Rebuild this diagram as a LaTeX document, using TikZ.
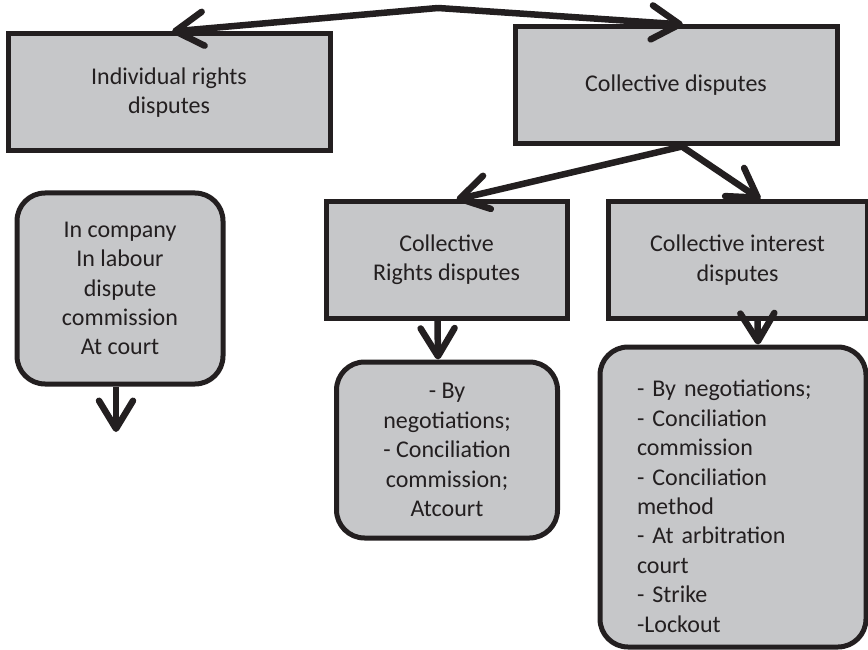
\documentclass[tikz,border=0pt]{standalone}
\usepackage{fontspec}
\setmainfont{Carlito}
\usetikzlibrary{arrows.meta}

\definecolor{boxgray}{HTML}{C6C7C9}
\definecolor{inkdark}{HTML}{231F20}

\tikzset{
    box/.style={draw=inkdark, line width=5pt, fill=boxgray, text=inkdark,
        align=center, inner sep=0pt},
    roundbox/.style={box, rounded corners=28pt},
    link/.style={draw=inkdark, line width=6.5pt,
        -{Straight Barb[length=28pt, width=34pt, round]}},
}

\begin{document}
\begin{tikzpicture}[x=1pt, y=-1pt, font=\fontsize{24}{29.4}\selectfont]
    \useasboundingbox (0,0) rectangle (868,650);

    % top level
    \node[box, minimum width=322pt, minimum height=117pt] (ind) at (169,92.5)
        {Individual rights\\disputes};
    \node[box, minimum width=322pt, minimum height=117pt] (col) at (676,85.5)
        {Collective disputes};

    % second level
    \node[roundbox, minimum width=206pt, minimum height=191pt] (comp) at (120,288.5)
        {In company\\In labour\\dispute\\commission\\At court};
    \node[box, minimum width=241pt, minimum height=116pt] (crd) at (446.5,260)
        {Collective\\Rights disputes};
    \node[box, minimum width=259pt, minimum height=116pt] (cid) at (737.5,260)
        {Collective interest\\disputes};

    % ways of settling
    \node[roundbox, minimum width=221pt, minimum height=176pt] (crm) at (447,450)
        {- By\\negotiations;\\- Conciliation\\commission;\\Atcourt};
    \node[roundbox, align=left, text width=192pt, minimum width=266pt,
        minimum height=300pt] (cim) at (733,497)
        {\rule{0pt}{35pt}- By negotiations;\\- Conciliation\\commission\\%
         - Conciliation\\method\\- At arbitration\\court\\- Strike\\-Lockout};

    % connectors
    \coordinate (apex) at (438,8);
    \coordinate (compend) at (116,432);
    \draw[link] (apex) -- ([xshift=3pt]ind.north);
    \draw[link] (apex) -- ([xshift=7pt]col.north);
    \draw[link] ([xshift=6pt]col.south) -- ([xshift=10pt]crd.north);
    \draw[link] ([xshift=6pt]col.south) -- ([xshift=23pt]cid.north);
    \draw[link] ([xshift=-4pt]comp.south) -- (compend);
    \draw[link] ([xshift=-9pt]crd.south) -- ([xshift=-9pt]crm.north);
    \draw[link] ([xshift=20pt]cid.south) -- ([xshift=25pt]cim.north);
\end{tikzpicture}
\end{document}
